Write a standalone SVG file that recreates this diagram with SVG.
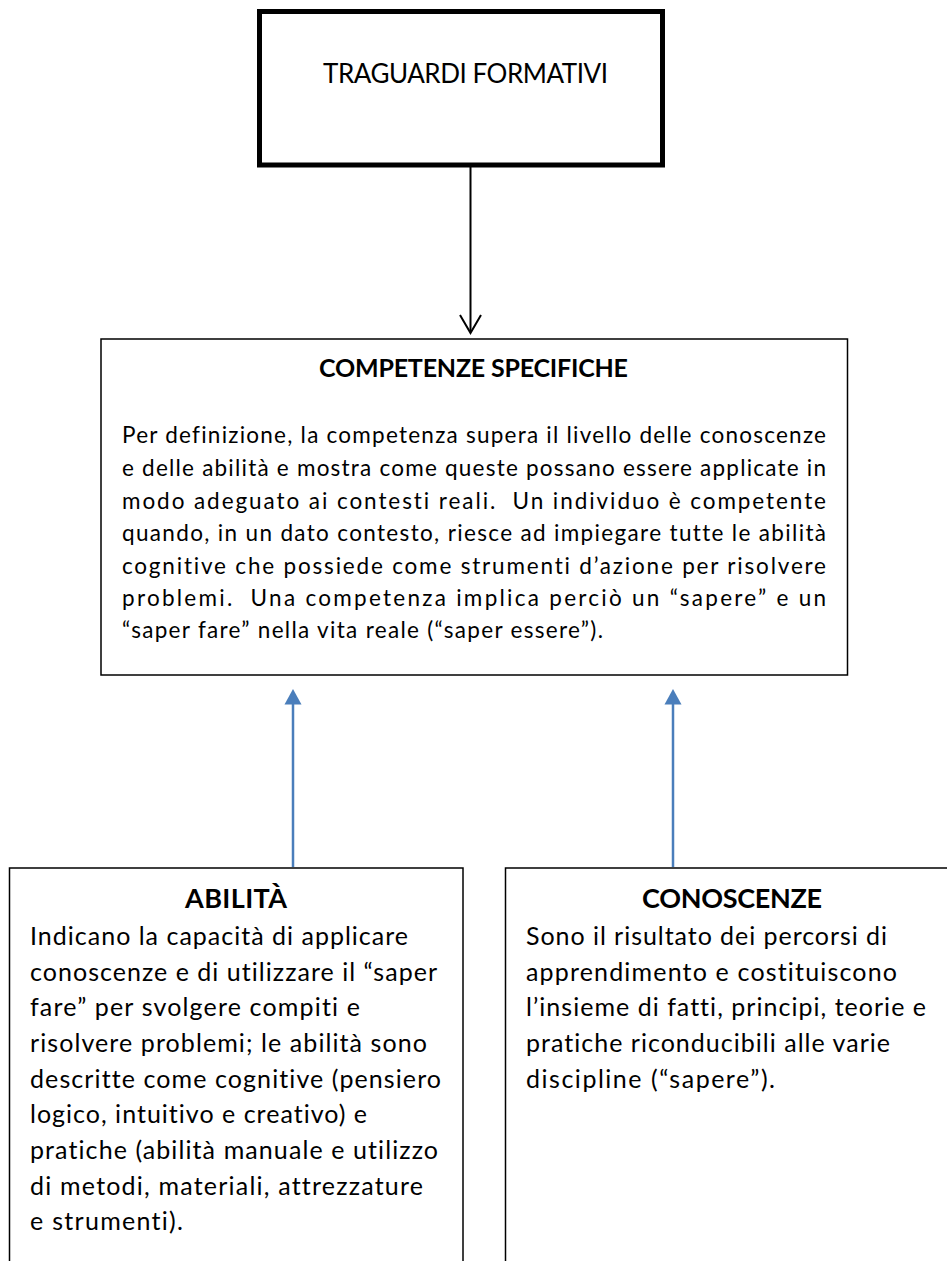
<svg xmlns="http://www.w3.org/2000/svg" width="947" height="1261" viewBox="0 0 947 1261">
<defs>
<style>
.box{fill:#fff;stroke:#000;stroke-width:1.5}
.t{font-family:Lato,"Open Sans","Liberation Sans",sans-serif;fill:#000;font-variant-ligatures:none}
.h{font-weight:bold}
.pre{white-space:pre}
.blue{stroke:#4A7EBB;stroke-width:2.5;fill:none}
</style>
</defs>
<rect width="947" height="1261" fill="#fff"/>
<g id="connectors">
<line x1="470.5" y1="167" x2="470.5" y2="332" stroke="#000" stroke-width="2"/>
<polyline points="460,315 470.5,333 481,315" fill="none" stroke="#000" stroke-width="2"/>
<line class="blue" x1="293" y1="867" x2="293" y2="702"/>
<polygon points="293,689 284.5,704.5 301.5,704.5" fill="#4A7EBB"/>
<line class="blue" x1="673" y1="867" x2="673" y2="702"/>
<polygon points="673,689 664.5,704.5 681.5,704.5" fill="#4A7EBB"/>
</g>
<g id="traguardi">
<rect x="259.5" y="11.5" width="403" height="153.5" fill="#fff" stroke="#000" stroke-width="5"/>
<text class="t" x="323" y="83" font-size="26" textLength="285" lengthAdjust="spacing">TRAGUARDI FORMATIVI</text>
</g>
<g id="competenze">
<rect class="box" x="101" y="339" width="746.5" height="336"/>
<text class="t h" x="319" y="377" font-size="25" textLength="309" lengthAdjust="spacing">COMPETENZE SPECIFICHE</text>
<g class="t" font-size="22.5">
<text x="122" y="443" textLength="704" lengthAdjust="spacing">Per definizione, la competenza supera il livello delle conoscenze</text>
<text x="122" y="476" textLength="704" lengthAdjust="spacing">e delle abilità e mostra come queste possano essere applicate in</text>
<text class="pre" xml:space="preserve" x="122" y="508.5" textLength="704" lengthAdjust="spacing">modo adeguato ai contesti reali.  Un individuo è competente</text>
<text x="122" y="541" textLength="704" lengthAdjust="spacing">quando, in un dato contesto, riesce ad impiegare tutte le abilità</text>
<text x="122" y="573.5" textLength="704" lengthAdjust="spacing">cognitive che possiede come strumenti d’azione per risolvere</text>
<text class="pre" xml:space="preserve" x="122" y="606" textLength="704" lengthAdjust="spacing">problemi.  Una competenza implica perciò un “sapere” e un</text>
<text x="122" y="638" textLength="481" lengthAdjust="spacing">“saper fare” nella vita reale (“saper essere”).</text>
</g>
</g>
<g id="abilita">
<rect class="box" x="9.5" y="868" width="453.5" height="410"/>
<text class="t h" x="185" y="908" font-size="27" textLength="102" lengthAdjust="spacing">ABILITÀ</text>
<g class="t" font-size="25">
<text x="30" y="945" textLength="378" lengthAdjust="spacing">Indicano la capacità di applicare</text>
<text x="30" y="980.5" textLength="407" lengthAdjust="spacing">conoscenze e di utilizzare il “saper</text>
<text x="30" y="1016" textLength="330" lengthAdjust="spacing">fare” per svolgere compiti e</text>
<text x="30" y="1052" textLength="397" lengthAdjust="spacing">risolvere problemi; le abilità sono</text>
<text x="30" y="1087.5" textLength="411" lengthAdjust="spacing">descritte come cognitive (pensiero</text>
<text x="30" y="1123" textLength="337" lengthAdjust="spacing">logico, intuitivo e creativo) e</text>
<text x="30" y="1159" textLength="408" lengthAdjust="spacing">pratiche (abilità manuale e utilizzo</text>
<text x="30" y="1195" textLength="393" lengthAdjust="spacing">di metodi, materiali, attrezzature</text>
<text x="30" y="1230" textLength="153" lengthAdjust="spacing">e strumenti).</text>
</g>
</g>
<g id="conoscenze">
<rect class="box" x="505.5" y="868" width="460" height="410"/>
<text class="t h" x="642" y="908" font-size="27" textLength="180" lengthAdjust="spacing">CONOSCENZE</text>
<g class="t" font-size="25">
<text x="526" y="945" textLength="361" lengthAdjust="spacing">Sono il risultato dei percorsi di</text>
<text x="526" y="980.5" textLength="371" lengthAdjust="spacing">apprendimento e costituiscono</text>
<text x="526" y="1016" textLength="400" lengthAdjust="spacing">l’insieme di fatti, principi, teorie e</text>
<text x="526" y="1052" textLength="364" lengthAdjust="spacing">pratiche riconducibili alle varie</text>
<text x="526" y="1087.5" textLength="249" lengthAdjust="spacing">discipline (“sapere”).</text>
</g>
</g>
</svg>
